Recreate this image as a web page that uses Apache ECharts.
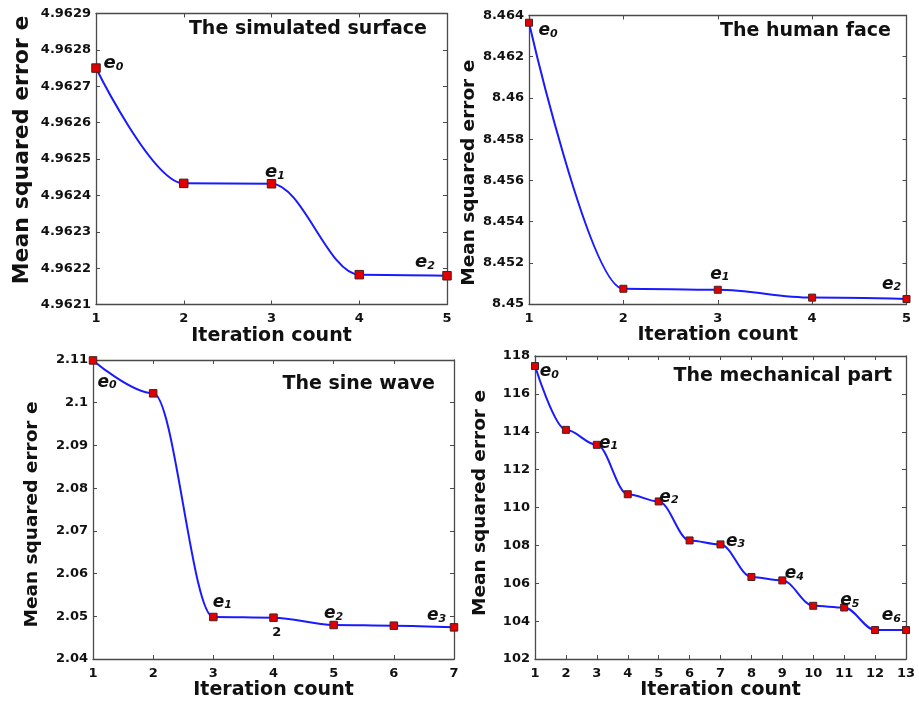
<!DOCTYPE html>
<html>
<head>
<meta charset="utf-8">
<script src="https://cdn.jsdelivr.net/npm/echarts@6/dist/echarts.min.js"></script>
<style>
html,body{margin:0;padding:0;background:#fff;}
#chart{width:919px;height:711px;}
</style>
</head>
<body>
<div id="chart"></div>
<script>
// ---- data ----
const titles = ['The simulated surface', 'The human face', 'The sine wave', 'The mechanical part'];
const xName = 'Iteration count';
const yName = 'Mean squared error e';

const iter1 = [1, 2, 3, 4, 5];
const mse1 = [4.96275, 4.962433, 4.962432, 4.962182, 4.962179];
const ann1 = ['e0', '', 'e1', '', 'e2'];
const yTicks1 = [4.9621, 4.9622, 4.9623, 4.9624, 4.9625, 4.9626, 4.9627, 4.9628, 4.9629];

const iter2 = [1, 2, 3, 4, 5];
const mse2 = [8.46365, 8.45074, 8.45069, 8.45031, 8.45024];
const ann2 = ['e0', '', 'e1', '', 'e2'];
const yTicks2 = [8.45, 8.452, 8.454, 8.456, 8.458, 8.46, 8.462, 8.464];

const iter3 = [1, 2, 3, 4, 5, 6, 7];
const mse3 = [2.1099, 2.1022, 2.04983, 2.04967, 2.04796, 2.0478, 2.04741];
const ann3 = ['e0', '', 'e1', '2', 'e2', '', 'e3'];
const yTicks3 = [2.04, 2.05, 2.06, 2.07, 2.08, 2.09, 2.1, 2.11];

const iter4 = [1, 2, 3, 4, 5, 6, 7, 8, 9, 10, 11, 12, 13];
const mse4 = [117.47, 114.10, 113.31, 110.70, 110.32, 108.26, 108.05, 106.33, 106.15, 104.81, 104.72, 103.53, 103.53];
const ann4 = ['e0', '', 'e1', '', 'e2', '', 'e3', '', 'e4', '', 'e5', '', 'e6'];
const yTicks4 = [102, 104, 106, 108, 110, 112, 114, 116, 118];

// ---- layout / styles ----
const FONT = 'DejaVu Sans';
const TXT = '#111';
const FRAME = '#4a4a4a';
const grids = [
  {left: 96, top: 13.5, width: 351, height: 291},
  {left: 529, top: 15.5, width: 377.5, height: 288.5},
  {left: 93, top: 360, width: 361, height: 299},
  {left: 535, top: 356, width: 371, height: 303}
];
const titlePos = [
  {right: 492, top: 20},
  {right: 28, top: 22},
  {right: 484, top: 375},
  {right: 27, top: 367}
];
const yNameGap = [63, 49, 51, 45];
const yNameSize = [22, 18.5, 18.5, 18.5];
const yNamePad = [[0, 0, 0, 18], [0, 26, 0, 0], [0, 10, 0, 0], [0, 0, 0, 9]];
const eSize = [18, 17, 17, 17];
const markSize = [8.5, 7, 7.5, 7];
const labelOffsets = [
  [[17.5, -4.5], null, [3.5, -11.3], null, [-22, -13.6]],
  [[19, 8.3], null, [2, -15.4], null, [-15, -14.7]],
  [[14, 21.8], null, [9, -14.6], [3.3, 15.3], [0, -11], null, [-17.5, -11.7]],
  [[14.3, 5.8], null, [11.8, -1.5], null, [10.3, -4], null, [15, -3], null, [12, -6.4], null, [5.6, -6.7], null, [-14.7, -14.3]]
];

const panels = [
  {x: iter1, y: mse1, ann: ann1, ticks: yTicks1},
  {x: iter2, y: mse2, ann: ann2, ticks: yTicks2},
  {x: iter3, y: mse3, ann: ann3, ticks: yTicks3},
  {x: iter4, y: mse4, ann: ann4, ticks: yTicks4}
];

function fmt(v) { return String(parseFloat(v.toFixed(6))); }

function labelFor(text, off, es) {
  if (text[0] === 'e') {
    return {
      show: true, position: 'inside', offset: off,
      formatter: '{e|e}{s|' + text.slice(1) + '}',
      rich: {
        e: {fontFamily: FONT, fontSize: es, fontStyle: 'italic', fontWeight: 'bold', color: TXT,
            lineHeight: es, padding: [0, 0, 6, 0], verticalAlign: 'top'},
        s: {fontFamily: FONT, fontSize: 11, fontStyle: 'italic', fontWeight: 'bold', color: TXT,
            lineHeight: 11, verticalAlign: 'bottom'}
      }
    };
  }
  return {show: true, position: 'inside', offset: off, formatter: text,
          fontFamily: FONT, fontSize: 13, fontWeight: 'bold', color: TXT};
}

const xAxes = [], yAxes = [], series = [], titleArr = [];
panels.forEach((p, i) => {
  const n = p.x.length;
  const step = parseFloat((p.ticks[1] - p.ticks[0]).toFixed(6));
  const common = {
    gridIndex: i, type: 'value',
    axisLine: {show: true, lineStyle: {color: FRAME, width: 1.3}},
    axisTick: {show: true, inside: true, length: 4, lineStyle: {color: FRAME, width: 1}},
    splitLine: {show: false}
  };
  xAxes.push(Object.assign({}, common, {
    position: 'bottom', min: p.x[0], max: p.x[n - 1], interval: 1,
    axisLabel: {show: true, margin: 8, fontFamily: FONT, fontWeight: 'bold', fontSize: 13, color: TXT, formatter: fmt},
    name: xName, nameLocation: 'middle', nameGap: 19,
    nameTextStyle: {fontFamily: FONT, fontWeight: 'bold', fontSize: 19, color: TXT, verticalAlign: 'top'}
  }));
  xAxes.push(Object.assign({}, common, {
    position: 'top', min: p.x[0], max: p.x[n - 1], interval: 1, axisLabel: {show: false}
  }));
  yAxes.push(Object.assign({}, common, {
    position: 'left', min: p.ticks[0], max: p.ticks[p.ticks.length - 1], interval: step,
    axisLabel: {show: true, margin: 5, fontFamily: FONT, fontWeight: 'bold', fontSize: 13, color: TXT, formatter: fmt},
    name: yName, nameLocation: 'middle', nameGap: yNameGap[i],
    nameTextStyle: {fontFamily: FONT, fontWeight: 'bold', fontSize: yNameSize[i], color: TXT, padding: yNamePad[i]}
  }));
  yAxes.push(Object.assign({}, common, {
    position: 'right', min: p.ticks[0], max: p.ticks[p.ticks.length - 1], interval: step, axisLabel: {show: false}
  }));
  const data = p.x.map((x, k) => {
    const item = {value: [x, p.y[k]]};
    if (p.ann[k]) item.label = labelFor(p.ann[k], labelOffsets[i][k], eSize[i]);
    return item;
  });
  series.push({
    type: 'line', xAxisIndex: i * 2, yAxisIndex: i * 2, data: data,
    smooth: 0.35, smoothMonotone: 'x', clip: false,
    symbol: 'rect', symbolSize: markSize[i], showAllSymbol: true,
    lineStyle: {color: '#1a1aff', width: 2},
    itemStyle: {color: '#e00000', borderColor: '#4a2020', borderWidth: 1},
    label: {show: false},
    emphasis: {disabled: true}
  });
  titleArr.push(Object.assign({
    text: titles[i], padding: 0,
    textStyle: {fontFamily: FONT, fontWeight: 'bold', fontSize: 19, color: TXT}
  }, titlePos[i]));
});

const chart = echarts.init(document.getElementById('chart'), null, {renderer: 'canvas'});
chart.setOption({
  animation: false,
  backgroundColor: '#fff',
  title: titleArr,
  grid: grids,
  xAxis: xAxes,
  yAxis: yAxes,
  series: series
});
</script>
</body>
</html>
